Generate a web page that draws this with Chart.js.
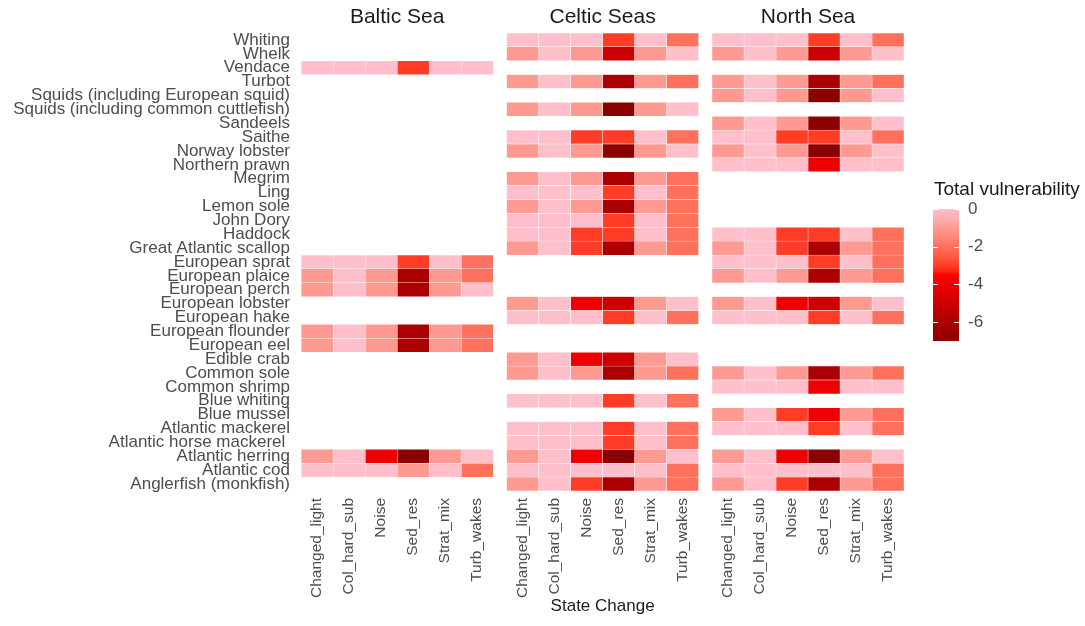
<!DOCTYPE html>
<html>
<head>
<meta charset="utf-8">
<script src="https://cdn.jsdelivr.net/npm/chart.js@4.4.1/dist/chart.umd.min.js"></script>
<style>
  html, body { margin: 0; padding: 0; background: #ffffff; }
  #wrap { width: 1085px; height: 626px; position: relative; }
  canvas { display: block; }
</style>
</head>
<body>
<div id="wrap"><canvas id="heat" width="1085" height="626"></canvas></div>
<script>
// Facets, state-change columns and species rows (top to bottom)
const seas = ['Baltic Sea', 'Celtic Seas', 'North Sea'];
const stateChanges = ['Changed_light', 'Col_hard_sub', 'Noise', 'Sed_res', 'Strat_mix', 'Turb_wakes'];
const species = [
  'Whiting', 'Whelk', 'Vendace', 'Turbot',
  'Squids (including European squid)', 'Squids (including common cuttlefish)',
  'Sandeels', 'Saithe', 'Norway lobster', 'Northern prawn', 'Megrim', 'Ling',
  'Lemon sole', 'John Dory', 'Haddock', 'Great Atlantic scallop',
  'European sprat', 'European plaice', 'European perch', 'European lobster',
  'European hake', 'European flounder', 'European eel', 'Edible crab',
  'Common sole', 'Common shrimp', 'Blue whiting', 'Blue mussel',
  'Atlantic mackerel', 'Atlantic horse mackerel ', 'Atlantic herring',
  'Atlantic cod', 'Anglerfish (monkfish)'
];

// Total vulnerability per species (rows) and state change (columns); null = not assessed
const baltic = [
  null, null, [0, 0, 0, -3, 0, 0], null, null, null, null, null, null, null,
  null, null, null, null, null, null,
  [0, 0, 0, -3, 0, -2], [-1, 0, -1, -6, -1, -2], [-1, 0, -1, -6, -1, 0], null,
  null, [-1, 0, -1, -6, -1, -2], [-1, 0, -1, -6, -1, -2], null,
  null, null, null, null, null, null,
  [-1, 0, -4, -7, -1, 0], [0, 0, 0, -1, 0, -2], null
];
const celtic = [
  [0, 0, 0, -3, 0, -2], [-1, 0, -1, -5, -1, 0], null, [-1, 0, -1, -6, -1, -2],
  null, [-1, 0, -1, -7, -1, 0], null, [0, 0, -3, -3, 0, -2],
  [-1, 0, -1, -7, -1, 0], null, [-1, 0, -1, -6, -1, -2], [0, 0, 0, -3, 0, -2],
  [-1, 0, -1, -6, -1, -2], [0, 0, 0, -3, 0, -2], [0, 0, -3, -3, 0, -2], [-1, 0, -3, -6, -1, -2],
  null, null, null, [-1, 0, -4, -5, -1, 0],
  [0, 0, 0, -3, 0, -2], null, null, [-1, 0, -4, -5, -1, 0],
  [-1, 0, -1, -6, -1, -2], null, [0, 0, 0, -3, 0, -2], null,
  [0, 0, 0, -3, 0, -2], [0, 0, 0, -3, 0, -2], [-1, 0, -4, -7, -1, 0],
  [0, 0, 0, 0, 0, -2], [-1, 0, -3, -6, -1, -2]
];
const northSea = [
  [0, 0, 0, -3, 0, -2], [-1, 0, -1, -5, -1, 0], null, [-1, 0, -1, -6, -1, -2],
  [-1, 0, -1, -7, -1, 0], null, [-1, 0, -1, -7, -1, 0], [0, 0, -3, -3, 0, -2],
  [-1, 0, -1, -7, -1, 0], [0, 0, 0, -4, 0, 0], null, null,
  null, null, [0, 0, -3, -3, 0, -2], [-1, 0, -3, -6, -1, -2],
  [0, 0, 0, -3, 0, -2], [-1, 0, -1, -6, -1, -2], null, [-1, 0, -4, -5, -1, 0],
  [0, 0, 0, -3, 0, -2], null, null, null,
  [-1, 0, -1, -6, -1, -2], [0, 0, 0, -4, 0, 0], null, [-1, 0, -3, -4, -1, -2],
  [0, 0, 0, -3, 0, -2], null, [-1, 0, -4, -7, -1, 0],
  [0, 0, 0, 0, 0, -2], [-1, 0, -3, -6, -1, -2]
];
const legendTicks = [0, -2, -4, -6];
const valueMin = -7, valueMax = 0;

const panels = [baltic, celtic, northSea];
const panelStride = 6.42;   // columns per facet plus the gap between facets

// ---- colour ramp darkred -> red -> pink, interpolated in CIE Lab ----
function toLin(c) { c /= 255; return c <= 0.04045 ? c / 12.92 : Math.pow((c + 0.055) / 1.055, 2.4); }
function fromLin(c) { const v = c <= 0.0031308 ? 12.92 * c : 1.055 * Math.pow(c, 1 / 2.4) - 0.055; return Math.max(0, Math.min(255, Math.round(v * 255))); }
function rgbToLab([r, g, b]) {
  r = toLin(r); g = toLin(g); b = toLin(b);
  const x = (0.4124564 * r + 0.3575761 * g + 0.1804375 * b) / 0.95047;
  const y = (0.2126729 * r + 0.7151522 * g + 0.0721750 * b);
  const z = (0.0193339 * r + 0.1191920 * g + 0.9503041 * b) / 1.08883;
  const f = t => t > 0.008856 ? Math.cbrt(t) : 7.787 * t + 16 / 116;
  const fx = f(x), fy = f(y), fz = f(z);
  return [116 * fy - 16, 500 * (fx - fy), 200 * (fy - fz)];
}
function labToRgb([L, a, bb]) {
  const fy = (L + 16) / 116, fx = fy + a / 500, fz = fy - bb / 200;
  const inv = t => { const t3 = t * t * t; return t3 > 0.008856 ? t3 : (t - 16 / 116) / 7.787; };
  const x = inv(fx) * 0.95047, y = inv(fy), z = inv(fz) * 1.08883;
  const r = 3.2404542 * x - 1.5371385 * y - 0.4985314 * z;
  const g = -0.9692660 * x + 1.8760108 * y + 0.0415560 * z;
  const b = 0.0556434 * x - 0.2040259 * y + 1.0572252 * z;
  return [fromLin(r), fromLin(g), fromLin(b)];
}
const rampStops = [[139, 0, 0], [255, 0, 0], [255, 192, 203]].map(rgbToLab);
function colorFor(v) {
  let t = (v - valueMin) / (valueMax - valueMin);
  t = Math.max(0, Math.min(1, t));
  const seg = t < 0.5 ? 0 : 1;
  const u = seg === 0 ? t / 0.5 : (t - 0.5) / 0.5;
  const A = rampStops[seg], B = rampStops[seg + 1];
  const lab = [A[0] + (B[0] - A[0]) * u, A[1] + (B[1] - A[1]) * u, A[2] + (B[2] - A[2]) * u];
  const [r, g, b] = labToRgb(lab);
  return `rgb(${r},${g},${b})`;
}

// ---- one floating-bar dataset per facet and state change ----
const datasets = [];
panels.forEach((rows, p) => {
  stateChanges.forEach((sc, c) => {
    const x0 = p * panelStride + c;
    datasets.push({
      label: seas[p] + ' ' + sc,
      data: rows.map(r => (r ? [x0, x0 + 1] : null)),
      backgroundColor: ctx => {
        const r = rows[ctx.dataIndex];
        return r ? colorFor(r[c]) : 'rgba(0,0,0,0)';
      },
      borderColor: '#ffffff',
      borderWidth: 0.5,
      borderSkipped: false,
      grouped: false,
      barPercentage: 1,
      categoryPercentage: 1
    });
  });
});

const tickPositions = [];
panels.forEach((_, p) => stateChanges.forEach((_, c) => tickPositions.push(p * panelStride + c + 0.5)));

const FONT = "'Liberation Sans', Arial, sans-serif";

// facet strip titles and the colour bar legend
const decorations = {
  id: 'decorations',
  afterDraw(chart) {
    const ctx = chart.ctx;
    const xs = chart.scales.x;
    ctx.save();
    ctx.fillStyle = '#1a1a1a';
    ctx.font = `21px ${FONT}`;
    ctx.textAlign = 'center';
    ctx.textBaseline = 'middle';
    seas.forEach((s, p) => {
      ctx.fillText(s, xs.getPixelForValue(p * panelStride + 3), 17);
    });

    // colour bar
    const barL = 933, barW = 26, barTop = 209, barBot = 341;
    const grad = ctx.createLinearGradient(0, barTop, 0, barBot);
    for (let i = 0; i <= 40; i++) {
      const f = i / 40;
      grad.addColorStop(f, colorFor(valueMax - f * (valueMax - valueMin)));
    }
    ctx.fillStyle = grad;
    ctx.fillRect(barL, barTop, barW, barBot - barTop);
    const yFor = v => barTop + (valueMax - v) / (valueMax - valueMin) * (barBot - barTop);
    ctx.strokeStyle = '#ffffff';
    ctx.lineWidth = 1;
    legendTicks.forEach(v => {
      const y = Math.round(yFor(v)) + 0.5;
      ctx.beginPath();
      ctx.moveTo(barL, y); ctx.lineTo(barL + 5, y);
      ctx.moveTo(barL + barW - 5, y); ctx.lineTo(barL + barW, y);
      ctx.stroke();
    });
    ctx.fillStyle = '#4d4d4d';
    ctx.font = `17px ${FONT}`;
    ctx.textAlign = 'left';
    legendTicks.forEach(v => ctx.fillText(String(v), 968, yFor(v)));
    ctx.fillStyle = '#1a1a1a';
    ctx.font = `19px ${FONT}`;
    ctx.fillText('Total vulnerability', 934, 190);
    ctx.restore();
  }
};

new Chart(document.getElementById('heat'), {
  type: 'bar',
  data: { labels: species, datasets },
  options: {
    indexAxis: 'y',
    responsive: false,
    animation: false,
    events: [],
    layout: { padding: { left: 0, right: 177.8, top: 33, bottom: 0 } },
    plugins: { legend: { display: false }, tooltip: { enabled: false } },
    scales: {
      y: {
        type: 'category',
        offset: true,
        grid: { display: false, drawTicks: false },
        border: { display: false },
        ticks: { autoSkip: false, padding: 8, color: '#4d4d4d', font: { family: FONT, size: 17 } },
        afterFit(scale) { scale.width = 298; }
      },
      x: {
        type: 'linear',
        min: -0.1,
        max: 2 * panelStride + 6.1,
        grid: { display: false, drawTicks: false },
        border: { display: false },
        afterBuildTicks(scale) { scale.ticks = tickPositions.map(v => ({ value: v })); },
        ticks: {
          autoSkip: false,
          minRotation: 90,
          maxRotation: 90,
          padding: 7,
          color: '#4d4d4d',
          font: { family: FONT, size: 15.5 },
          callback: (val, idx) => stateChanges[idx % stateChanges.length]
        },
        title: {
          display: true,
          text: 'State Change',
          color: '#1a1a1a',
          font: { family: FONT, size: 17 },
          padding: { top: 0, bottom: 9 }
        },
        afterFit(scale) { scale.height = 135; }
      }
    }
  },
  plugins: [decorations]
});
</script>
</body>
</html>
